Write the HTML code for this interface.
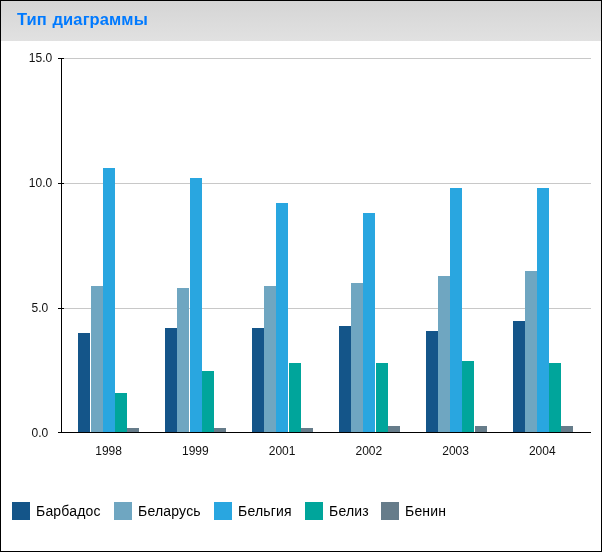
<!DOCTYPE html>
<html><head><meta charset="utf-8">
<style>
html,body{margin:0;padding:0;}
body{width:602px;height:552px;position:relative;overflow:hidden;background:#fff;font-family:"Liberation Sans",sans-serif;}
#frame{position:absolute;left:0;top:0;width:600px;height:550px;border:1px solid #000;border-right-width:1px;}
#hdr{position:absolute;left:1px;top:1px;width:600px;height:40px;background:linear-gradient(#d5d5d5,#e1e1e1);}
#title{will-change:transform;position:absolute;left:16px;top:9px;font-size:16.5px;letter-spacing:0.1px;word-spacing:1px;font-weight:bold;color:#007aff;white-space:nowrap;}
svg{position:absolute;left:0;top:0;will-change:transform;}
svg text{font-family:"Liberation Sans",sans-serif;font-size:12px;fill:#111;}
.sq{position:absolute;top:502px;width:18px;height:18px;}
.lt{will-change:transform;letter-spacing:0.2px;position:absolute;top:502px;font-size:14px;line-height:18px;color:#000;white-space:nowrap;}
</style></head><body>
<div id="hdr"><div id="title">Тип диаграммы</div></div>
<svg width="602" height="552" viewBox="0 0 602 552">
<line x1="62" y1="58.5" x2="591" y2="58.5" stroke="#c8c8c8" stroke-width="1"/><line x1="62" y1="183.5" x2="591" y2="183.5" stroke="#c8c8c8" stroke-width="1"/><line x1="62" y1="308.5" x2="591" y2="308.5" stroke="#c8c8c8" stroke-width="1"/>
<rect x="78" y="333.00" width="12" height="99.50" fill="#145589"/><rect x="91" y="286.00" width="12" height="146.50" fill="#6fa6c1"/><rect x="103" y="168.00" width="12" height="264.50" fill="#29a6e0"/><rect x="115" y="393.00" width="12" height="39.50" fill="#00a59b"/><rect x="127" y="428.00" width="12" height="4.50" fill="#667c8a"/><rect x="165" y="328.00" width="12" height="104.50" fill="#145589"/><rect x="177" y="288.00" width="12" height="144.50" fill="#6fa6c1"/><rect x="190" y="178.00" width="12" height="254.50" fill="#29a6e0"/><rect x="202" y="371.00" width="12" height="61.50" fill="#00a59b"/><rect x="214" y="428.00" width="12" height="4.50" fill="#667c8a"/><rect x="252" y="328.00" width="12" height="104.50" fill="#145589"/><rect x="264" y="286.00" width="12" height="146.50" fill="#6fa6c1"/><rect x="276" y="203.00" width="12" height="229.50" fill="#29a6e0"/><rect x="289" y="363.00" width="12" height="69.50" fill="#00a59b"/><rect x="301" y="428.00" width="12" height="4.50" fill="#667c8a"/><rect x="339" y="326.00" width="12" height="106.50" fill="#145589"/><rect x="351" y="283.00" width="12" height="149.50" fill="#6fa6c1"/><rect x="363" y="213.00" width="12" height="219.50" fill="#29a6e0"/><rect x="376" y="363.00" width="12" height="69.50" fill="#00a59b"/><rect x="388" y="426.00" width="12" height="6.50" fill="#667c8a"/><rect x="426" y="331.00" width="12" height="101.50" fill="#145589"/><rect x="438" y="276.00" width="12" height="156.50" fill="#6fa6c1"/><rect x="450" y="188.00" width="12" height="244.50" fill="#29a6e0"/><rect x="462" y="361.00" width="12" height="71.50" fill="#00a59b"/><rect x="475" y="426.00" width="12" height="6.50" fill="#667c8a"/><rect x="513" y="321.00" width="12" height="111.50" fill="#145589"/><rect x="525" y="271.00" width="12" height="161.50" fill="#6fa6c1"/><rect x="537" y="188.00" width="12" height="244.50" fill="#29a6e0"/><rect x="549" y="363.00" width="12" height="69.50" fill="#00a59b"/><rect x="561" y="426.00" width="12" height="6.50" fill="#667c8a"/>
<line x1="61.5" y1="58" x2="61.5" y2="433" stroke="#000" stroke-width="1"/>
<line x1="58" y1="432.5" x2="591" y2="432.5" stroke="#000" stroke-width="1"/>
<line x1="58" y1="58.5" x2="64" y2="58.5" stroke="#000" stroke-width="1"/><line x1="58" y1="183.5" x2="64" y2="183.5" stroke="#000" stroke-width="1"/><line x1="58" y1="308.5" x2="64" y2="308.5" stroke="#000" stroke-width="1"/><line x1="58" y1="432.5" x2="64" y2="432.5" stroke="#000" stroke-width="1"/>
<text x="40.5" y="62.4" text-anchor="middle">15.0</text><text x="40.5" y="187.4" text-anchor="middle">10.0</text><text x="39.8" y="312.4" text-anchor="middle">5.0</text><text x="39.8" y="437.4" text-anchor="middle">0.0</text>
<text x="108.6" y="455" text-anchor="middle">1998</text><text x="195.34" y="455" text-anchor="middle">1999</text><text x="282.08" y="455" text-anchor="middle">2001</text><text x="368.82" y="455" text-anchor="middle">2002</text><text x="455.56" y="455" text-anchor="middle">2003</text><text x="542.3" y="455" text-anchor="middle">2004</text>
</svg>
<div class="sq" style="left:12px;background:#145589"></div><div class="lt" style="left:36px">Барбадос</div><div class="sq" style="left:114px;background:#6fa6c1"></div><div class="lt" style="left:138px">Беларусь</div><div class="sq" style="left:214px;background:#29a6e0"></div><div class="lt" style="left:238px">Бельгия</div><div class="sq" style="left:305px;background:#00a59b"></div><div class="lt" style="left:329px">Белиз</div><div class="sq" style="left:381px;background:#667c8a"></div><div class="lt" style="left:405px">Бенин</div>
<div id="frame"></div>
</body></html>
